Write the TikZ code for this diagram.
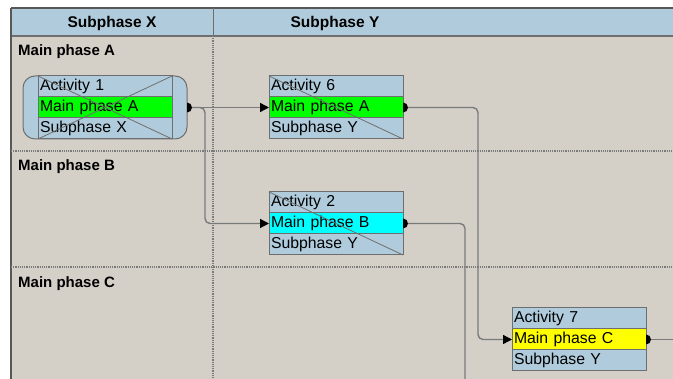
\documentclass[tikz,border=0pt]{standalone}
\usepackage{fontspec}
\setmainfont{Liberation Sans}
\usetikzlibrary{arrows.meta}
\definecolor{bg}{HTML}{D4D0C8}
\definecolor{lb}{HTML}{B0CCDC}
\definecolor{edge}{HTML}{6E6E6E}
\definecolor{conn}{HTML}{7A7A7A}
\definecolor{grn}{HTML}{00FF00}
\definecolor{cyn}{HTML}{00FFFF}
\definecolor{ylw}{HTML}{FFFF00}
\tikzset{
  row/.style={draw=edge, line width=1pt, fill=lb, minimum height=21pt, text width=130pt,
    inner xsep=2pt, inner ysep=0pt, outer sep=0pt, align=left,
    text height=11.5pt, text depth=3pt,
    font=\fontsize{15.8}{18}\selectfont, anchor=west},
  hdrtxt/.style={font=\bfseries\fontsize{15.5}{18}\selectfont, inner sep=0pt, text height=11pt, text depth=0pt},
  lanetxt/.style={font=\bfseries\fontsize{15}{18}\selectfont, inner sep=0pt, anchor=west, text height=11pt, text depth=0pt},
  grid/.style={draw=conn, line width=1.1pt, dash pattern=on 1.2pt off 1pt},
  connector/.style={draw=conn, line width=1.4pt, rounded corners=5pt},
  arr/.style={-{Triangle[length=9pt,width=9pt,black]}},
  diag/.style={draw=edge, line width=0.8pt},
  roundbox/.style={draw=edge, fill=lb, line width=1pt, rounded corners=12pt,
    minimum width=164pt, minimum height=63pt, inner sep=0pt, outer sep=0pt},
}
\newcommand{\srcdot}[1]{\fill[black] (#1) ++(0,-5) arc (-90:90:5) -- cycle;}
\begin{document}
\begin{tikzpicture}[x=1pt,y=-1pt]
\useasboundingbox (0,0) rectangle (673,379);
\fill[white] (0,0) rectangle (673,379);
\fill[bg] (11,8) rectangle (673,379);
% header
\fill[lb] (11,8) rectangle (673,36);
\draw[edge!80!black, line width=1.2pt] (11,8) -- (673,8);
\draw[edge, line width=1.2pt] (11,36) -- (673,36);
\draw[edge, line width=1pt] (213,8) -- (213,36);
\draw[edge!80!black, line width=1.2pt] (11,8) -- (11,379);
\node[hdrtxt] (hx) at (112,22) {Subphase X};
\node[hdrtxt] (hy) at (335,22) {Subphase Y};
% grid
\draw[grid] (213,36) -- (213,379);
\draw[grid] (11,151) -- (673,151);
\draw[grid] (11,267) -- (673,267);
% lane labels
\node[lanetxt] (la) at (18,50) {Main phase A};
\node[lanetxt] (lb) at (18,165) {Main phase B};
\node[lanetxt] (lc) at (18,282) {Main phase C};
% Activity 1
\node[roundbox] (a1) at (105,107.5) {};
\node[row] (a1t) at (38,86.5) {Activity 1};
\node[row, fill=grn] (a1m) at (38,107.5) {Main phase A};
\node[row] (a1b) at (38,128.5) {Subphase X};
\draw[diag] (a1t.north west) -- (a1b.south east);
\draw[diag] (a1b.south west) -- (a1t.north east);
% Activity 6
\node[row] (a6t) at (269,86.5) {Activity 6};
\node[row, fill=grn] (a6m) at (269,107.5) {Main phase A};
\node[row] (a6b) at (269,128.5) {Subphase Y};
\draw[diag] (a6t.north west) -- (a6b.south east);
% Activity 2
\node[row] (a2t) at (269,202.5) {Activity 2};
\node[row, fill=cyn] (a2m) at (269,223.5) {Main phase B};
\node[row] (a2b) at (269,244.5) {Subphase Y};
\draw[diag] (a2t.north west) -- (a2b.south east);
% Activity 7
\node[row] (a7t) at (512,318.5) {Activity 7};
\node[row, fill=ylw] (a7m) at (512,339.5) {Main phase C};
\node[row] (a7b) at (512,360.5) {Subphase Y};
% free ends
\coordinate (e2) at (465,379);
\coordinate (e7) at (673,339.5);
% connectors
\draw[connector, arr] (a1.east) -- (a6m.west);
\draw[connector, arr] (a1.east) -- ++(18,0) |- (a2m.west);
\draw[connector, arr] (a6m.east) -- ++(75,0) |- (a7m.west);
\draw[connector] (a2m.east) -| (e2);
\draw[connector] (a7m.east) -- (e7);
\srcdot{a1.east}
\srcdot{a6m.east}
\srcdot{a2m.east}
\srcdot{a7m.east}
\end{tikzpicture}
\end{document}
